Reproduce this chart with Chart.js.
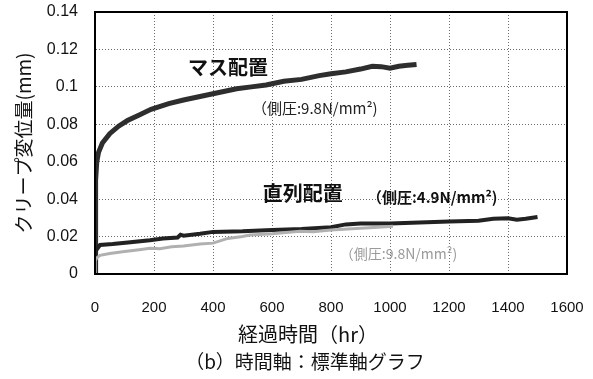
<!DOCTYPE html>
<html>
<head>
<meta charset="utf-8">
<script src="https://cdn.jsdelivr.net/npm/chart.js@4/dist/chart.umd.min.js"></script>
<style>
  html, body { margin: 0; padding: 0; background: #fff; }
  #wrap { width: 593px; height: 379px; }
</style>
</head>
<body>
<div id="wrap"><canvas id="creep" width="593" height="379"></canvas></div>
<script>
// マス配置 (側圧 9.8N/mm2)
var massTime = [0, 1, 3, 6, 12, 25, 50, 80, 110, 150, 190, 250, 300, 360, 420, 480, 530, 580, 640, 700, 760, 800, 850, 900, 940, 970, 1000, 1030, 1060, 1090];
var massDisp = [0, 0.03, 0.05, 0.06, 0.065, 0.07, 0.075, 0.079, 0.082, 0.085, 0.088, 0.091, 0.093, 0.095, 0.097, 0.099, 0.1, 0.101, 0.103, 0.104, 0.106, 0.107, 0.108, 0.1095, 0.111, 0.1108, 0.11, 0.111, 0.1115, 0.112];

// 直列配置 (側圧 4.9N/mm2)
var serTime = [0, 1, 5, 17, 60, 120, 186, 230, 280, 290, 300, 356, 400, 500, 600, 700, 800, 850, 900, 1000, 1100, 1200, 1300, 1350, 1400, 1430, 1460, 1500];
var serDisp = [0, 0.012, 0.013, 0.0155, 0.016, 0.017, 0.018, 0.019, 0.0195, 0.021, 0.0205, 0.0215, 0.0225, 0.0228, 0.0235, 0.024, 0.025, 0.0265, 0.027, 0.027, 0.0275, 0.028, 0.0285, 0.0295, 0.0298, 0.029, 0.0295, 0.0305];

// 直列配置 (側圧 9.8N/mm2)
var ser2Time = [0, 1, 5, 17, 50, 100, 150, 186, 220, 260, 300, 356, 400, 450, 500, 525, 600, 695, 740, 800, 900, 960, 1010];
var ser2Disp = [0, 0.007, 0.0085, 0.01, 0.011, 0.012, 0.013, 0.0137, 0.0135, 0.0145, 0.015, 0.016, 0.0165, 0.019, 0.02, 0.0208, 0.0215, 0.0228, 0.0226, 0.0235, 0.0245, 0.025, 0.0255];

var xTicks = [0, 200, 400, 600, 800, 1000, 1200, 1400, 1600];
var yTicks = [0, 0.02, 0.04, 0.06, 0.08, 0.1, 0.12, 0.14];

var yTitle = 'クリープ変位量(mm)';
var xTitle = '経過時間（hr）';
var caption = '（b）時間軸：標準軸グラフ';

// labels inside the plot, anchored at (hr, mm)
var noteText = ['マス配置', '（側圧:9.8N/mm²)', '直列配置', '（側圧:4.9N/mm²)', '（側圧:9.8N/mm²)'];
var noteX = [315, 532, 569, 922, 830];
var noteY = [0.1106, 0.0887, 0.0433, 0.0412, 0.0107];
var noteFont = ['bold 20px "Noto Sans CJK JP"', '15px "Noto Sans CJK JP"', 'bold 20px "Noto Sans CJK JP"', 'bold 15px "Noto Sans CJK JP"', '14px "Noto Sans CJK JP"'];
var noteColor = ['#111', '#222', '#111', '#111', '#9a9a9a'];

function pts(xs, ys) {
    return xs.map(function (x, i) { return { x: x, y: ys[i] }; });
}

var jpFont = '"Noto Sans CJK JP"';
var numFont = '"Liberation Sans", Arial, sans-serif';

var framePlugin = {
    id: 'frame',
    afterDatasetsDraw: function (chart) {
        var ctx = chart.ctx;
        var a = chart.chartArea;
        var xs = chart.scales.x;
        var ys = chart.scales.y;
        ctx.save();
        ctx.strokeStyle = '#000';
        ctx.lineWidth = 2;
        ctx.strokeRect(a.left, a.top, a.right - a.left, a.bottom - a.top);
        ctx.textBaseline = 'middle';
        ctx.textAlign = 'left';
        noteText.forEach(function (t, i) {
            ctx.font = noteFont[i];
            ctx.fillStyle = noteColor[i];
            ctx.fillText(t, xs.getPixelForValue(noteX[i]), ys.getPixelForValue(noteY[i]));
        });
        ctx.textAlign = 'center';
        ctx.fillStyle = '#111';
        ctx.font = '20px ' + jpFont;
        ctx.fillText(xTitle, 308, 334);
        ctx.font = '19px ' + jpFont;
        ctx.fillText(caption, 305, 362);
        ctx.restore();
    }
};

var ctx = document.getElementById('creep').getContext('2d');
new Chart(ctx, {
    type: 'scatter',
    data: {
        datasets: [
            { label: '直列配置 9.8', data: pts(ser2Time, ser2Disp), showLine: true, borderColor: '#b0b0b0', borderWidth: 3, pointRadius: 0 },
            { label: '直列配置 4.9', data: pts(serTime, serDisp), showLine: true, borderColor: '#222', borderWidth: 4, pointRadius: 0 },
            { label: 'マス配置 9.8', data: pts(massTime, massDisp), showLine: true, borderColor: '#2e2e2e', borderWidth: 5, pointRadius: 0 }
        ]
    },
    options: {
        responsive: false,
        animation: false,
        layout: { padding: { left: 4, right: 26, top: 12, bottom: 0 } },
        plugins: { legend: { display: false }, tooltip: { enabled: false } },
        scales: {
            x: {
                type: 'linear', min: 0, max: 1600,
                afterBuildTicks: function (s) { s.ticks = xTicks.map(function (v) { return { value: v }; }); },
                afterFit: function (s) { s.height = 105; },
                ticks: {
                    padding: 0, color: '#111', font: { family: numFont, size: 15 },
                    callback: function (v) { return String(v); }
                },
                grid: { color: '#6a6a6a', drawTicks: true, tickLength: 25, tickColor: 'rgba(0,0,0,0)' },
                border: { display: true, color: '#000', width: 2, dash: [1, 2] }
            },
            y: {
                min: 0, max: 0.14,
                afterBuildTicks: function (s) { s.ticks = yTicks.map(function (v) { return { value: v }; }); },
                afterFit: function (s) { s.width = 91; },
                ticks: {
                    padding: 0, color: '#111', font: { family: numFont, size: 16 },
                    callback: function (v) { return String(parseFloat(v.toFixed(2))); }
                },
                grid: { color: '#6a6a6a', drawTicks: true, tickLength: 17, tickColor: 'rgba(0,0,0,0)' },
                border: { display: true, color: '#000', width: 2, dash: [1, 2] },
                title: { display: true, text: yTitle, color: '#111', font: { family: jpFont, size: 19 }, padding: { top: 8, bottom: 0 } }
            }
        }
    },
    plugins: [framePlugin]
});
</script>
</body>
</html>
